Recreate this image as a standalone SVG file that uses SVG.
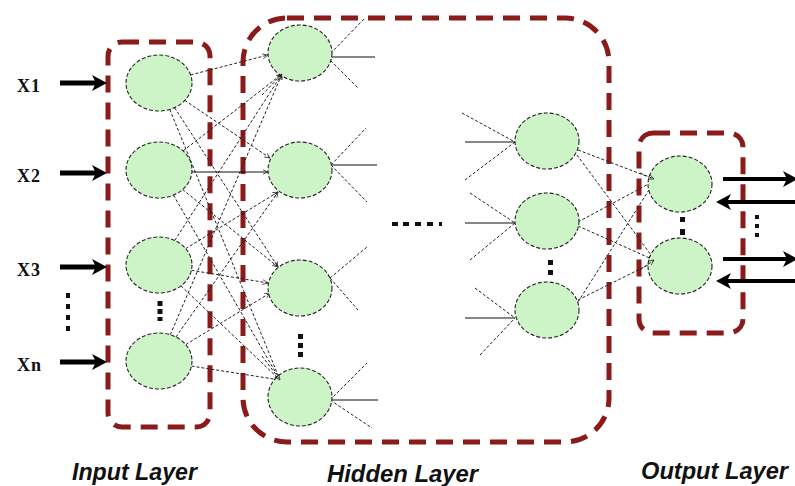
<svg xmlns="http://www.w3.org/2000/svg" width="795" height="486" viewBox="0 0 795 486">
<style>
.box{fill:none;stroke:#8b1a1a;stroke-width:5;stroke-dasharray:17 10}
.node{fill:#ccf4c6;stroke:#222;stroke-width:1.1;stroke-dasharray:4 2}
.c{stroke:#222;stroke-width:1;stroke-dasharray:3 2;fill:none}
.s{stroke:#111;stroke-width:1.1;fill:none}
.ca{marker-end:url(#ah)}
.thick{stroke:#000;stroke-width:5;marker-end:url(#big)}
.thin4{stroke:#000;stroke-width:4;marker-end:url(#big)}
.dot{fill:#111}
.xl{font-family:"Liberation Serif","Times New Roman",serif;font-weight:bold;font-size:18px;letter-spacing:1px;fill:#111}
.ll{font-family:"Liberation Sans",Arial,sans-serif;font-weight:bold;font-style:italic;font-size:24px;fill:#111}
</style>
<defs>
<marker id="ah" viewBox="0 0 10 10" refX="9" refY="5" markerWidth="6" markerHeight="6" orient="auto" markerUnits="userSpaceOnUse">
<path d="M0,1 L9,5 L0,9" fill="none" stroke="#222" stroke-width="1.2"/>
</marker>
<marker id="big" viewBox="0 0 15 16" refX="4" refY="8" markerWidth="15" markerHeight="16" orient="auto" markerUnits="userSpaceOnUse">
<path d="M0,0 L15,8 L0,16 L4,8 Z" fill="#000"/>
</marker>
</defs>
<rect width="795" height="486" fill="#fff"/>

<g id="layer-boxes">
<rect id="input-box" class="box" x="108" y="42" width="102" height="385" rx="14"/>
<rect id="hidden-box" class="box" x="243" y="18" width="366" height="424" rx="44"/>
<rect id="output-box" class="box" x="639" y="133" width="104" height="200" rx="14"/>
</g>

<g id="connectors">
<!-- input arrows -->
<line class="thick" x1="60" y1="83" x2="96" y2="83"/>
<line class="thick" x1="60" y1="173" x2="96" y2="173"/>
<line class="thick" x1="60" y1="267" x2="96" y2="267"/>
<line class="thick" x1="60" y1="362" x2="96" y2="362"/>
<!-- input -> hidden 1 -->
<line class="c ca" x1="190.6" y1="74.9" x2="268" y2="55"/>
<line class="c ca" x1="184.8" y1="100.4" x2="270" y2="158"/>
<line class="c ca" x1="174.6" y1="107.7" x2="278" y2="267"/>
<line class="c ca" x1="169.8" y1="109.5" x2="280" y2="380"/>
<line class="c ca" x1="183.1" y1="150.9" x2="282" y2="74"/>
<line class="s ca" x1="192" y1="172" x2="268" y2="172"/>
<line class="c ca" x1="182.6" y1="189.5" x2="278" y2="267"/>
<line class="c ca" x1="173.5" y1="195.2" x2="280" y2="380"/>
<line class="c ca" x1="174.8" y1="240.4" x2="282" y2="74"/>
<line class="c ca" x1="185.7" y1="248.6" x2="278" y2="192"/>
<line class="c ca" x1="191.4" y1="270.3" x2="268" y2="283"/>
<line class="c ca" x1="181" y1="285.9" x2="280" y2="380"/>
<line class="c ca" x1="170.3" y1="334.7" x2="282" y2="74"/>
<line class="c ca" x1="175.9" y1="337" x2="278" y2="192"/>
<line class="c ca" x1="185.8" y1="344.6" x2="270" y2="293"/>
<line class="c ca" x1="191.5" y1="366.1" x2="280" y2="380"/>
<!-- hidden 1 outgoing stubs -->
<line class="s" x1="327" y1="57" x2="375" y2="57"/>
<line class="c" x1="327" y1="57" x2="365" y2="18"/>
<line class="c" x1="327" y1="57" x2="358" y2="88"/>
<line class="s" x1="331" y1="165" x2="377" y2="165"/>
<line class="c" x1="331" y1="165" x2="366" y2="128"/>
<line class="c" x1="331" y1="165" x2="367" y2="202"/>
<line class="c" x1="330" y1="278" x2="367" y2="247"/>
<line class="c" x1="330" y1="278" x2="358" y2="310"/>
<line class="s" x1="330" y1="400" x2="378" y2="400"/>
<line class="c" x1="330" y1="400" x2="367" y2="363"/>
<line class="c" x1="330" y1="400" x2="372" y2="428"/>
<!-- hidden 2 incoming stubs -->
<line class="s" x1="465" y1="142" x2="517" y2="142"/>
<line class="c" x1="462" y1="113" x2="515" y2="142"/>
<line class="c" x1="465" y1="180" x2="515" y2="142"/>
<line class="s" x1="465" y1="223" x2="515" y2="223"/>
<line class="c" x1="470" y1="193" x2="515" y2="223"/>
<line class="c" x1="470" y1="260" x2="515" y2="223"/>
<line class="s" x1="465" y1="318" x2="515" y2="318"/>
<line class="c" x1="475" y1="288" x2="515" y2="318"/>
<line class="c" x1="480" y1="355" x2="515" y2="318"/>
<!-- hidden 2 -> output -->
<line class="c ca" x1="578" y1="150" x2="654" y2="179"/>
<line class="c ca" x1="577" y1="155" x2="654" y2="259"/>
<line class="c ca" x1="578" y1="222" x2="654" y2="181"/>
<line class="c ca" x1="578" y1="226" x2="654" y2="260"/>
<line class="c ca" x1="578" y1="302" x2="654" y2="182"/>
<line class="c ca" x1="578" y1="300" x2="654" y2="262"/>
<!-- output arrows -->
<line class="thin4" x1="723" y1="179" x2="787" y2="179"/>
<line class="thin4" x1="800" y1="202" x2="727" y2="202"/>
<line class="thin4" x1="723" y1="259" x2="787" y2="259"/>
<line class="thin4" x1="800" y1="281" x2="727" y2="281"/>
</g>

<g id="input-layer">
<ellipse id="in1" class="node" cx="159" cy="83" rx="33" ry="28"/>
<ellipse id="in2" class="node" cx="159" cy="170" rx="33" ry="28"/>
<ellipse id="in3" class="node" cx="159" cy="265" rx="33" ry="28"/>
<ellipse id="inn" class="node" cx="159" cy="361" rx="33" ry="28"/>
</g>
<g id="hidden-layer-1">
<ellipse id="h11" class="node" cx="300" cy="53" rx="32" ry="28"/>
<ellipse id="h12" class="node" cx="300" cy="170" rx="32" ry="28"/>
<ellipse id="h13" class="node" cx="300" cy="288" rx="32" ry="28"/>
<ellipse id="h14" class="node" cx="300" cy="397" rx="32" ry="29"/>
</g>
<g id="hidden-layer-2">
<ellipse id="h21" class="node" cx="547" cy="141" rx="32" ry="28"/>
<ellipse id="h22" class="node" cx="547" cy="221" rx="32" ry="28"/>
<ellipse id="h23" class="node" cx="547" cy="310" rx="32" ry="28"/>
</g>
<g id="output-layer">
<ellipse id="o1" class="node" cx="680" cy="184" rx="32" ry="28"/>
<ellipse id="o2" class="node" cx="680" cy="266" rx="32" ry="28"/>
</g>

<g id="connector-tips">
<line class="c ca" x1="262" y1="95" x2="282" y2="74"/>
<line class="c ca" x1="262" y1="356" x2="280" y2="380"/>
<line class="c ca" x1="640" y1="173" x2="654" y2="179"/>
<line class="c ca" x1="640" y1="270" x2="654" y2="260"/>
</g>

<g id="ellipsis-dots">
<rect class="dot" x="66" y="293" width="4" height="5"/>
<rect class="dot" x="66" y="304" width="4" height="5"/>
<rect class="dot" x="66" y="315" width="4" height="5"/>
<rect class="dot" x="66" y="326" width="4" height="5"/>
<rect class="dot" x="157.5" y="301" width="5" height="5"/>
<rect class="dot" x="157.5" y="309" width="5" height="5"/>
<rect class="dot" x="157.5" y="317" width="5" height="4"/>
<rect class="dot" x="298" y="334" width="5" height="5"/>
<rect class="dot" x="298" y="343" width="5" height="5"/>
<rect class="dot" x="298" y="352" width="5" height="5"/>
<rect class="dot" x="548" y="260" width="5" height="5"/>
<rect class="dot" x="548" y="270" width="5" height="5"/>
<rect class="dot" x="680" y="217" width="5" height="5"/>
<rect class="dot" x="680" y="229" width="5" height="6"/>
<rect class="dot" x="755" y="215" width="4" height="4"/>
<rect class="dot" x="755" y="224" width="4" height="4"/>
<rect class="dot" x="755" y="233" width="4" height="4"/>
<rect class="dot" x="392" y="222" width="6" height="4"/>
<rect class="dot" x="403" y="222" width="6" height="4"/>
<rect class="dot" x="415" y="222" width="6" height="4"/>
<rect class="dot" x="427" y="222" width="6" height="4"/>
<rect class="dot" x="439" y="222" width="3" height="4"/>
</g>

<g id="labels">
<text class="xl" x="17" y="92">X1</text>
<text class="xl" x="17" y="182">X2</text>
<text class="xl" x="17" y="276">X3</text>
<text class="xl" x="17" y="371">Xn</text>
<text class="ll" x="72" y="480" textLength="125" lengthAdjust="spacingAndGlyphs">Input Layer</text>
<text class="ll" x="327" y="482" textLength="151" lengthAdjust="spacingAndGlyphs">Hidden Layer</text>
<text class="ll" x="641" y="479" textLength="147" lengthAdjust="spacingAndGlyphs">Output Layer</text>
</g>
</svg>
